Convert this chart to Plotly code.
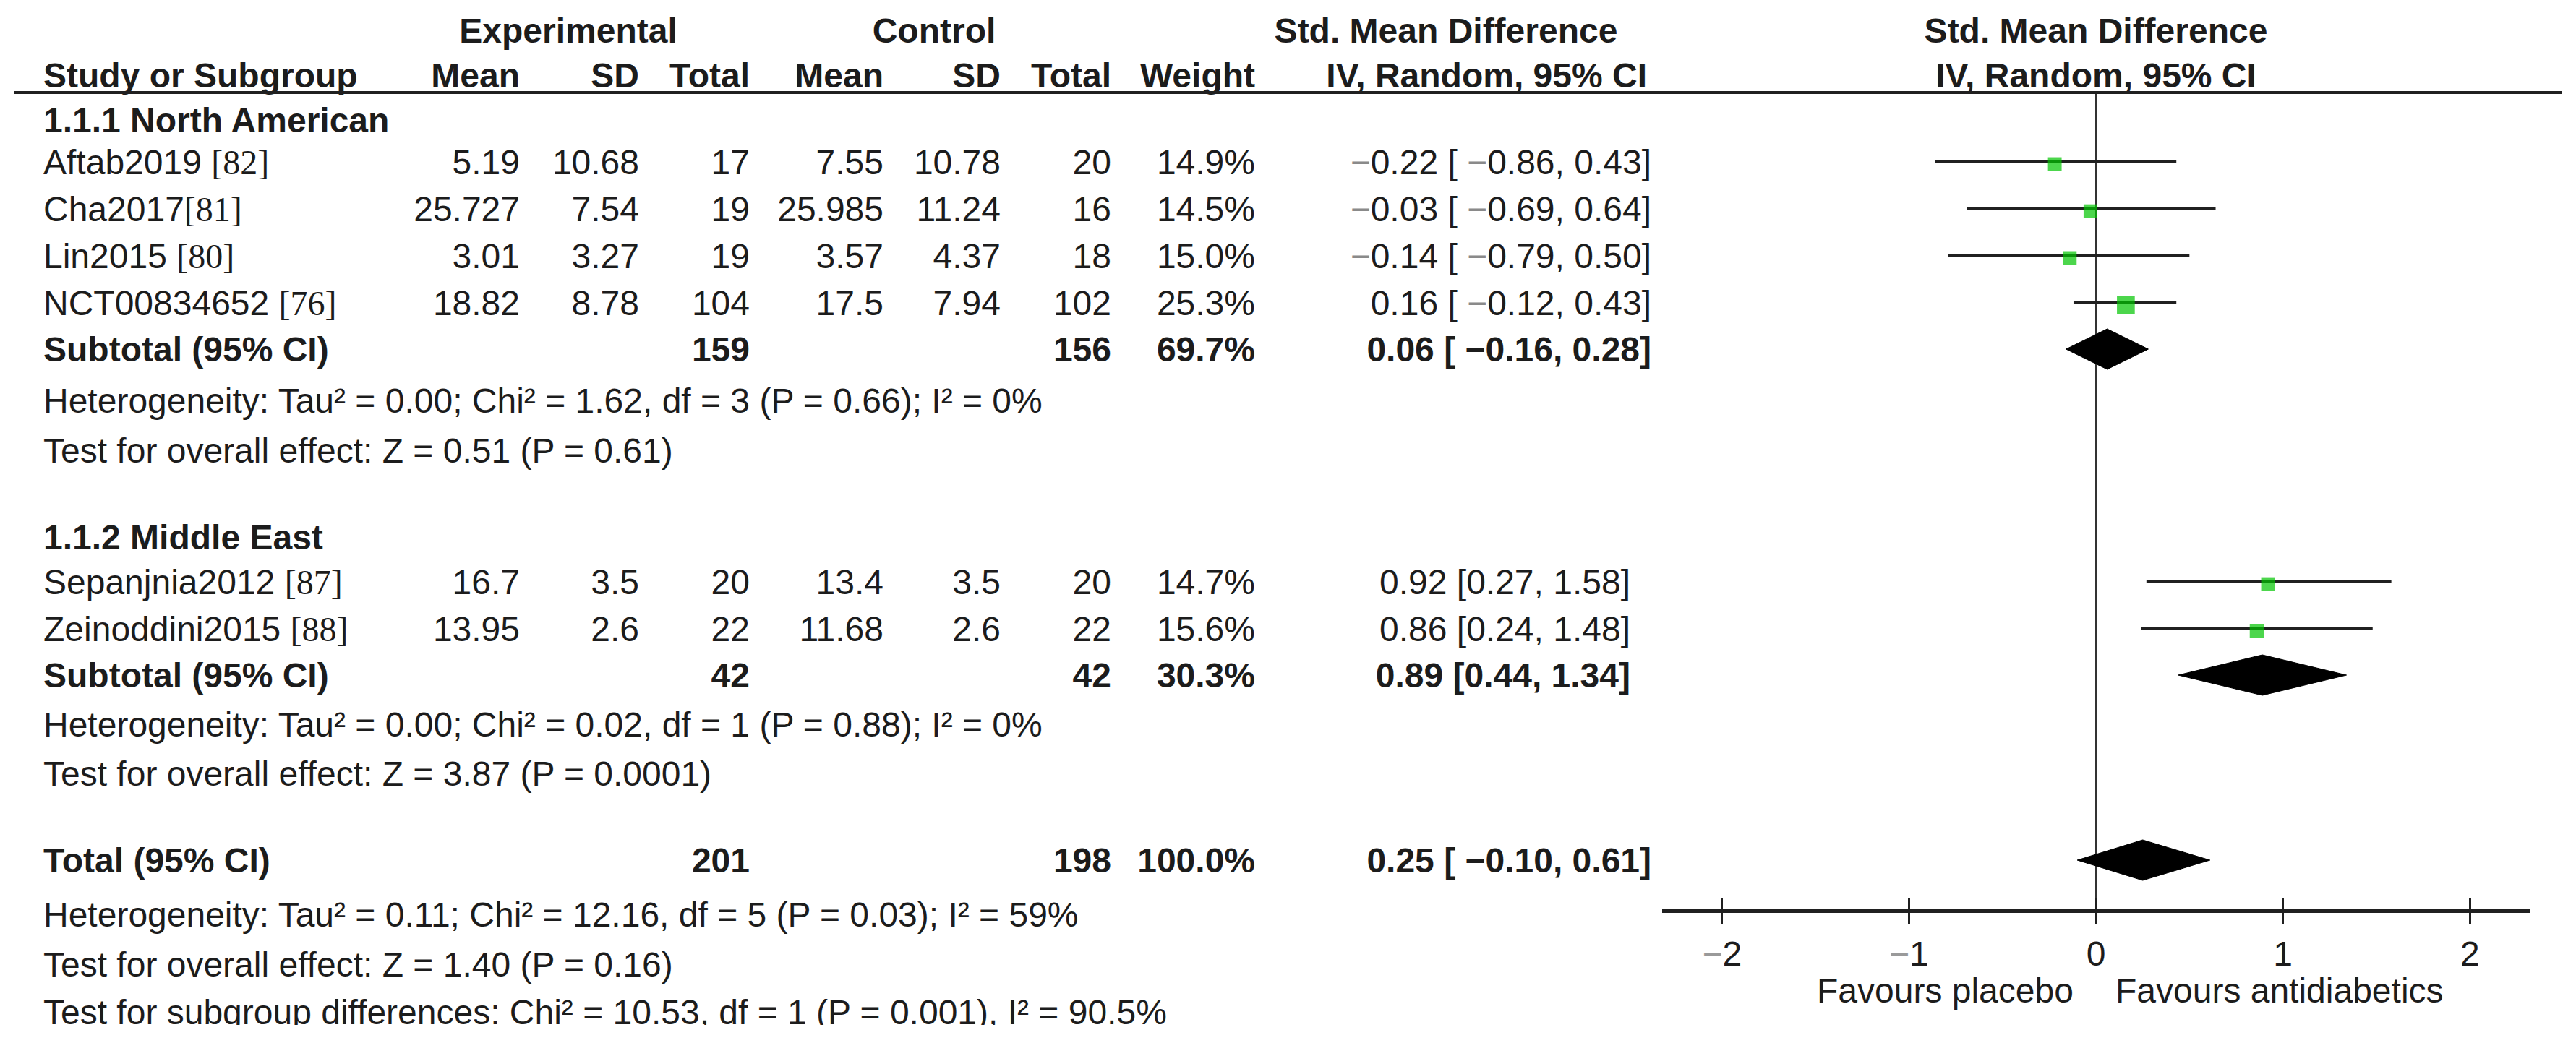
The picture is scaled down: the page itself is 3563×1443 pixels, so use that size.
import plotly.graph_objects as go

# ---------------- data ----------------
study_names = ["Aftab2019 ", "Cha2017", "Lin2015 ", "NCT00834652 ", "Sepanjnia2012 ", "Zeinoddini2015 "]
study_refs = ["82", "81", "80", "76", "87", "88"]
exp_mean = [5.19, 25.727, 3.01, 18.82, 16.7, 13.95]
exp_sd = [10.68, 7.54, 3.27, 8.78, 3.5, 2.6]
exp_n = [17, 19, 19, 104, 20, 22]
ctrl_mean = [7.55, 25.985, 3.57, 17.5, 13.4, 11.68]
ctrl_sd = [10.78, 11.24, 4.37, 7.94, 3.5, 2.6]
ctrl_n = [20, 16, 18, 102, 20, 22]
weights = [14.9, 14.5, 15.0, 25.3, 14.7, 15.6]
smd = [-0.22, -0.03, -0.14, 0.16, 0.92, 0.86]
smd_lo = [-0.86, -0.69, -0.79, -0.12, 0.27, 0.24]
smd_hi = [0.43, 0.64, 0.50, 0.43, 1.58, 1.48]

subgroup_titles = ["1.1.1 North American", "1.1.2 Middle East"]
sub_exp_n = [159, 42]
sub_ctrl_n = [156, 42]
sub_weight = [69.7, 30.3]
sub_smd = [0.06, 0.89]
sub_lo = [-0.16, 0.44]
sub_hi = [0.28, 1.34]
sub_het = ["Heterogeneity: Tau² = 0.00; Chi² = 1.62, df = 3 (P = 0.66); I² = 0%",
           "Heterogeneity: Tau² = 0.00; Chi² = 0.02, df = 1 (P = 0.88); I² = 0%"]
sub_test = ["Test for overall effect: Z = 0.51 (P = 0.61)",
            "Test for overall effect: Z = 3.87 (P = 0.0001)"]

total_exp_n = 201
total_ctrl_n = 198
total_weight = 100.0
total_smd = 0.25
total_lo = -0.10
total_hi = 0.61
total_het = "Heterogeneity: Tau² = 0.11; Chi² = 12.16, df = 5 (P = 0.03); I² = 59%"
total_test = "Test for overall effect: Z = 1.40 (P = 0.16)"
subgroup_diff = "Test for subgroup differences: Chi² = 10.53, df = 1 (P = 0.001), I² = 90.5%"

tick_vals = [-2, -1, 0, 1, 2]
favours_left = "Favours placebo"
favours_right = "Favours antidiabetics"

# ---------------- layout constants (pixels) ----------------
W, H = 3563, 1443
FS = 48
FONT = "Liberation Sans, Arial, sans-serif"
TXT = "#1c1c1c"
GREEN = "#00c400"
XR = [-2.32, 2.32]
AX_L, AX_R = 2299, 3499          # forest axis extent in px
AX_Y, SEP_Y = 1258, 128          # axis line / header separator
CLIP_Y = 1418
TEXT_DY = 5

# row positions (y pixels from top)
Y_H1, Y_H2 = 42, 104
Y_GT = [166, 743]
Y_ST = [224, 289, 354, 419, 805, 870]
Y_SUB = [483, 934]
Y_HET = [554, 1002]
Y_TEST = [623, 1070]
Y_TOT, Y_THET, Y_TTEST, Y_DIFF = 1190, 1265, 1334, 1400

# column anchors
C_LAB = 60
C_EM, C_ESD, C_EN = 719, 884, 1037
C_CM, C_CSD, C_CN = 1222, 1384, 1537
C_W = 1736
C_CI_NEG, C_CI_POS = 2284, 2255
px0 = AX_L + (0 - XR[0]) / (XR[1] - XR[0]) * (AX_R - AX_L)

MINUS = "\u2212"
GRAYM = '<span style="color:#8a8a8a">' + MINUS + '</span>'


def num(v, m):
    return (m + f"{abs(v):.2f}") if v < 0 else f"{v:.2f}"


def ci_text(e, lo, hi, m):
    lo_s = (" " + m + f"{abs(lo):.2f}") if lo < 0 else f"{lo:.2f}"
    return f"{num(e, m)} [{lo_s}, {num(hi, m)}]"


items = []  # (x, y, text, position)


def L(x, y, t): items.append((x, y + TEXT_DY, t, "middle right"))
def R(x, y, t): items.append((x, y + TEXT_DY, t, "middle left"))
def C(x, y, t): items.append((x, y + TEXT_DY, t, "middle center"))
def b(t): return "<b>" + t + "</b>"


# headers
C(786, Y_H1, b("Experimental"))
C(1292, Y_H1, b("Control"))
C(2000, Y_H1, b("Std. Mean Difference"))
C(px0, Y_H1, b("Std. Mean Difference"))
L(C_LAB, Y_H2, b("Study or Subgroup"))
for x, t in [(C_EM, "Mean"), (C_ESD, "SD"), (C_EN, "Total"), (C_CM, "Mean"),
             (C_CSD, "SD"), (C_CN, "Total"), (C_W, "Weight"), (2278, "IV, Random, 95% CI")]:
    R(x, Y_H2, b(t))
C(px0, Y_H2, b("IV, Random, 95% CI"))

# study rows
for i in range(len(study_names)):
    y = Y_ST[i]
    L(C_LAB, y, study_names[i] + '<span style="font-family:Liberation Serif">[' + study_refs[i] + ']</span>')
    R(C_EM, y, str(exp_mean[i]))
    R(C_ESD, y, str(exp_sd[i]))
    R(C_EN, y, str(exp_n[i]))
    R(C_CM, y, str(ctrl_mean[i]))
    R(C_CSD, y, str(ctrl_sd[i]))
    R(C_CN, y, str(ctrl_n[i]))
    R(C_W, y, f"{weights[i]:.1f}%")
    R(C_CI_NEG if smd_lo[i] < 0 else C_CI_POS, y, ci_text(smd[i], smd_lo[i], smd_hi[i], GRAYM))

# subgroups
for g in range(2):
    L(C_LAB, Y_GT[g], b(subgroup_titles[g]))
    y = Y_SUB[g]
    L(C_LAB, y, b("Subtotal (95% CI)"))
    R(C_EN, y, b(str(sub_exp_n[g])))
    R(C_CN, y, b(str(sub_ctrl_n[g])))
    R(C_W, y, b(f"{sub_weight[g]:.1f}%"))
    R(C_CI_NEG if sub_lo[g] < 0 else C_CI_POS, y, b(ci_text(sub_smd[g], sub_lo[g], sub_hi[g], MINUS)))
    L(C_LAB, Y_HET[g], sub_het[g])
    L(C_LAB, Y_TEST[g], sub_test[g])

# total
L(C_LAB, Y_TOT, b("Total (95% CI)"))
R(C_EN, Y_TOT, b(str(total_exp_n)))
R(C_CN, Y_TOT, b(str(total_ctrl_n)))
R(C_W, Y_TOT, b(f"{total_weight:.1f}%"))
R(C_CI_NEG if total_lo < 0 else C_CI_POS, Y_TOT, b(ci_text(total_smd, total_lo, total_hi, MINUS)))
L(C_LAB, Y_THET, total_het)
L(C_LAB, Y_TTEST, total_test)
L(C_LAB, Y_DIFF, subgroup_diff)

fig = go.Figure()

# table text (clipped at the bottom like the source image)
fig.add_trace(go.Scatter(
    x=[it[0] for it in items], y=[it[1] for it in items],
    text=[it[2] for it in items], textposition=[it[3] for it in items],
    mode="text", textfont=dict(family=FONT, size=FS, color=TXT),
    xaxis="x2", yaxis="y2", hoverinfo="skip", cliponaxis=True))

# CI whiskers
wx, wy = [], []
for i in range(len(smd)):
    wx += [smd_lo[i], smd_hi[i], None]
    wy += [Y_ST[i], Y_ST[i], None]
fig.add_trace(go.Scatter(x=wx, y=wy, mode="lines", line=dict(color="#202020", width=4),
                         hoverinfo="skip", xaxis="x", yaxis="y"))

# study squares (area ~ weight)
fig.add_trace(go.Scatter(
    x=smd, y=[y + 3 for y in Y_ST], mode="markers",
    marker=dict(symbol="square", color=GREEN, size=[4.9 * w ** 0.5 for w in weights],
                line=dict(width=0)),
    hoverinfo="skip", xaxis="x", yaxis="y"))

# diamonds
HALF = 28
dia = [(sub_smd[g], sub_lo[g], sub_hi[g], Y_SUB[g]) for g in range(2)]
dia.append((total_smd, total_lo, total_hi, Y_TOT))
for e, lo, hi, y in dia:
    fig.add_trace(go.Scatter(
        x=[lo, e, hi, e, lo], y=[y, y - HALF, y, y + HALF, y],
        mode="lines", fill="toself", fillcolor="black", line=dict(color="black", width=1),
        hoverinfo="skip", xaxis="x", yaxis="y"))

# helper trace to activate the inner-tick overlay axis
fig.add_trace(go.Scatter(x=[0], y=[600], mode="markers", marker=dict(opacity=0),
                         hoverinfo="skip", xaxis="x3", yaxis="y"))

tick_text = [('<span style="color:#9a9a9a">' + MINUS + '</span>' + str(abs(v))) if v < 0 else str(v)
             for v in tick_vals]

fig.update_layout(
    width=W, height=H, margin=dict(l=0, r=0, t=0, b=0),
    paper_bgcolor="white", plot_bgcolor="rgba(0,0,0,0)", showlegend=False,
    font=dict(family=FONT, size=FS, color=TXT),
    xaxis=dict(domain=[AX_L / W, AX_R / W], range=XR, anchor="y",
               showline=True, linewidth=5, linecolor="#202020",
               ticks="outside", ticklen=15, tickwidth=3, tickcolor="#202020",
               tickvals=tick_vals, ticktext=tick_text,
               tickfont=dict(family=FONT, size=FS, color=TXT),
               zeroline=True, zerolinewidth=2.5, zerolinecolor="#333333",
               showgrid=False, fixedrange=True),
    xaxis3=dict(overlaying="x", anchor="y", range=XR, matches="x",
                ticks="inside", ticklen=15, tickwidth=3, tickcolor="#202020",
                tickvals=tick_vals, showticklabels=False, showline=False,
                zeroline=False, showgrid=False),
    yaxis=dict(domain=[(H - AX_Y) / H, (H - SEP_Y) / H], range=[AX_Y, SEP_Y],
               visible=False, fixedrange=True),
    xaxis2=dict(domain=[0, 1], range=[0, W], visible=False, anchor="y2", fixedrange=True),
    yaxis2=dict(domain=[(H - CLIP_Y) / H, 1], range=[CLIP_Y, 0], visible=False,
                anchor="x2", fixedrange=True),
    shapes=[dict(type="line", xref="x2", yref="y2", x0=19, x1=3544, y0=SEP_Y, y1=SEP_Y,
                 line=dict(color="#202020", width=4))],
    annotations=[
        dict(text=favours_left, x=0, y=1370, xref="x", yref="y2", xanchor="right",
             yanchor="middle", xshift=-29, showarrow=False,
             font=dict(family=FONT, size=FS, color=TXT)),
        dict(text=favours_right, x=0, y=1370, xref="x", yref="y2", xanchor="left",
             yanchor="middle", xshift=25, showarrow=False,
             font=dict(family=FONT, size=FS, color=TXT)),
    ],
)

fig.write_html("out.html", config={"displayModeBar": False},
               post_script="document.body.style.margin='0';document.body.style.overflow='hidden';")
